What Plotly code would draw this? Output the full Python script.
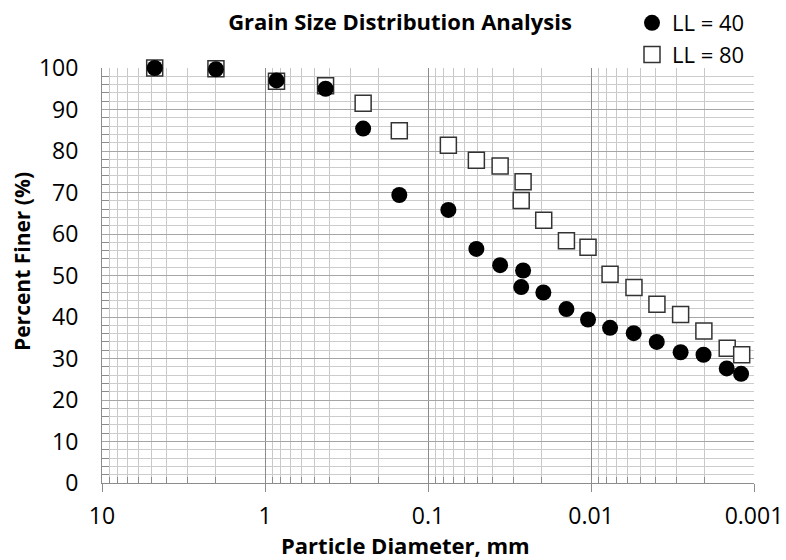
import plotly.graph_objects as go

# ---- data ----
ll40_diam = [4.75, 2.0, 0.85, 0.425, 0.25, 0.15, 0.075, 0.0505, 0.0361, 0.0261, 0.0268,
             0.0196, 0.01415, 0.01043, 0.00764, 0.00547, 0.00395, 0.00282, 0.00204, 0.00147, 0.0012]
ll40_pct = [100, 99.7, 97.0, 95.0, 85.4, 69.4, 65.8, 56.4, 52.5, 51.2, 47.2,
            45.9, 41.9, 39.4, 37.4, 36.1, 34.0, 31.5, 30.9, 27.6, 26.3]

ll80_diam = [4.75, 2.0, 0.85, 0.425, 0.25, 0.15, 0.075, 0.0505, 0.0361, 0.0261, 0.0268,
             0.0195, 0.01415, 0.01043, 0.00764, 0.00545, 0.00394, 0.00282, 0.00203, 0.00146, 0.00119]
ll80_pct = [100, 99.8, 96.8, 95.7, 91.5, 84.9, 81.4, 77.8, 76.4, 72.6, 68.1,
            63.3, 58.4, 56.8, 50.3, 47.1, 43.1, 40.6, 36.6, 32.5, 30.9]

x_tickvals = [10, 1, 0.1, 0.01, 0.001]
x_ticktext = ["10", "1", "0.1", "0.01", "0.001"]
decades = [1, 0.1, 0.01, 0.001]
x_minorvals = [m * d for d in decades for m in range(2, 10)]

FONT = "Open Sans"

fig = go.Figure()
fig.add_trace(go.Scatter(
    x=ll80_diam, y=ll80_pct, mode="markers", name="LL = 80",
    marker=dict(symbol="square", size=16, color="white",
                line=dict(color="#333333", width=1.5)),
    cliponaxis=False,
))
fig.add_trace(go.Scatter(
    x=ll40_diam, y=ll40_pct, mode="markers", name="LL = 40",
    marker=dict(symbol="circle", size=16, color="black", line=dict(width=0)),
    cliponaxis=False,
))

fig.update_layout(
    width=786, height=560,
    margin=dict(l=102, r=32, t=68, b=77, autoexpand=False),
    paper_bgcolor="white", plot_bgcolor="white",
    font=dict(family=FONT, size=23, color="black"),
    title=dict(text="<b>Grain Size Distribution Analysis</b>",
               x=400 / 786, xanchor="center", xref="container",
               y=1 - 22 / 560, yanchor="middle", yref="container",
               font=dict(family=FONT, size=22, color="black")),
    showlegend=True,
    legend=dict(x=632 / 786, xanchor="left", xref="container",
                y=1 - 2 / 560, yanchor="top", yref="container",
                traceorder="reversed", bgcolor="rgba(0,0,0,0)",
                font=dict(family=FONT, size=22, color="black"),
                itemwidth=30, tracegroupgap=0),
    xaxis=dict(
        type="log", range=[1, -3], autorange=False,
        tickmode="array", tickvals=x_tickvals, ticktext=x_ticktext,
        ticks="outside", ticklen=8, tickcolor="#8c8c8c", tickwidth=1,
        ticklabelstandoff=4,
        tickfont=dict(family=FONT, size=23),
        showgrid=True, gridcolor="#8c8c8c", gridwidth=1,
        showline=True, linecolor="#8c8c8c", linewidth=1,
        zeroline=False,
        minor=dict(tickmode="array", tickvals=x_minorvals,
                   ticks="inside", ticklen=6, tickcolor="#8c8c8c",
                   showgrid=True, gridcolor="#c8c8c8", gridwidth=1),
    ),
    yaxis=dict(
        range=[0, 100], autorange=False,
        tickmode="linear", tick0=0, dtick=10,
        ticks="", ticklabelstandoff=18,
        tickfont=dict(family=FONT, size=23),
        showgrid=True, gridcolor="#a6a6a6", gridwidth=1,
        showline=True, linecolor="#8c8c8c", linewidth=1,
        zeroline=False,
        minor=dict(dtick=2, ticks="inside", ticklen=7, tickcolor="#8c8c8c",
                   showgrid=True, gridcolor="#cccccc", gridwidth=1),
    ),
    annotations=[
        dict(text="<b>Particle Diameter, mm</b>", xref="paper", yref="paper",
             x=(405 - 102) / 652, y=-(545 - 483) / 415, xanchor="center", yanchor="middle",
             showarrow=False, font=dict(family=FONT, size=22, color="black")),
        dict(text="<b>Percent Finer (%)</b>", xref="paper", yref="paper",
             x=(22 - 102) / 652, y=(483 - 262) / 415, xanchor="center", yanchor="middle",
             textangle=-90, showarrow=False,
             font=dict(family=FONT, size=21, color="black")),
    ],
)

fig.write_html("out.html")
